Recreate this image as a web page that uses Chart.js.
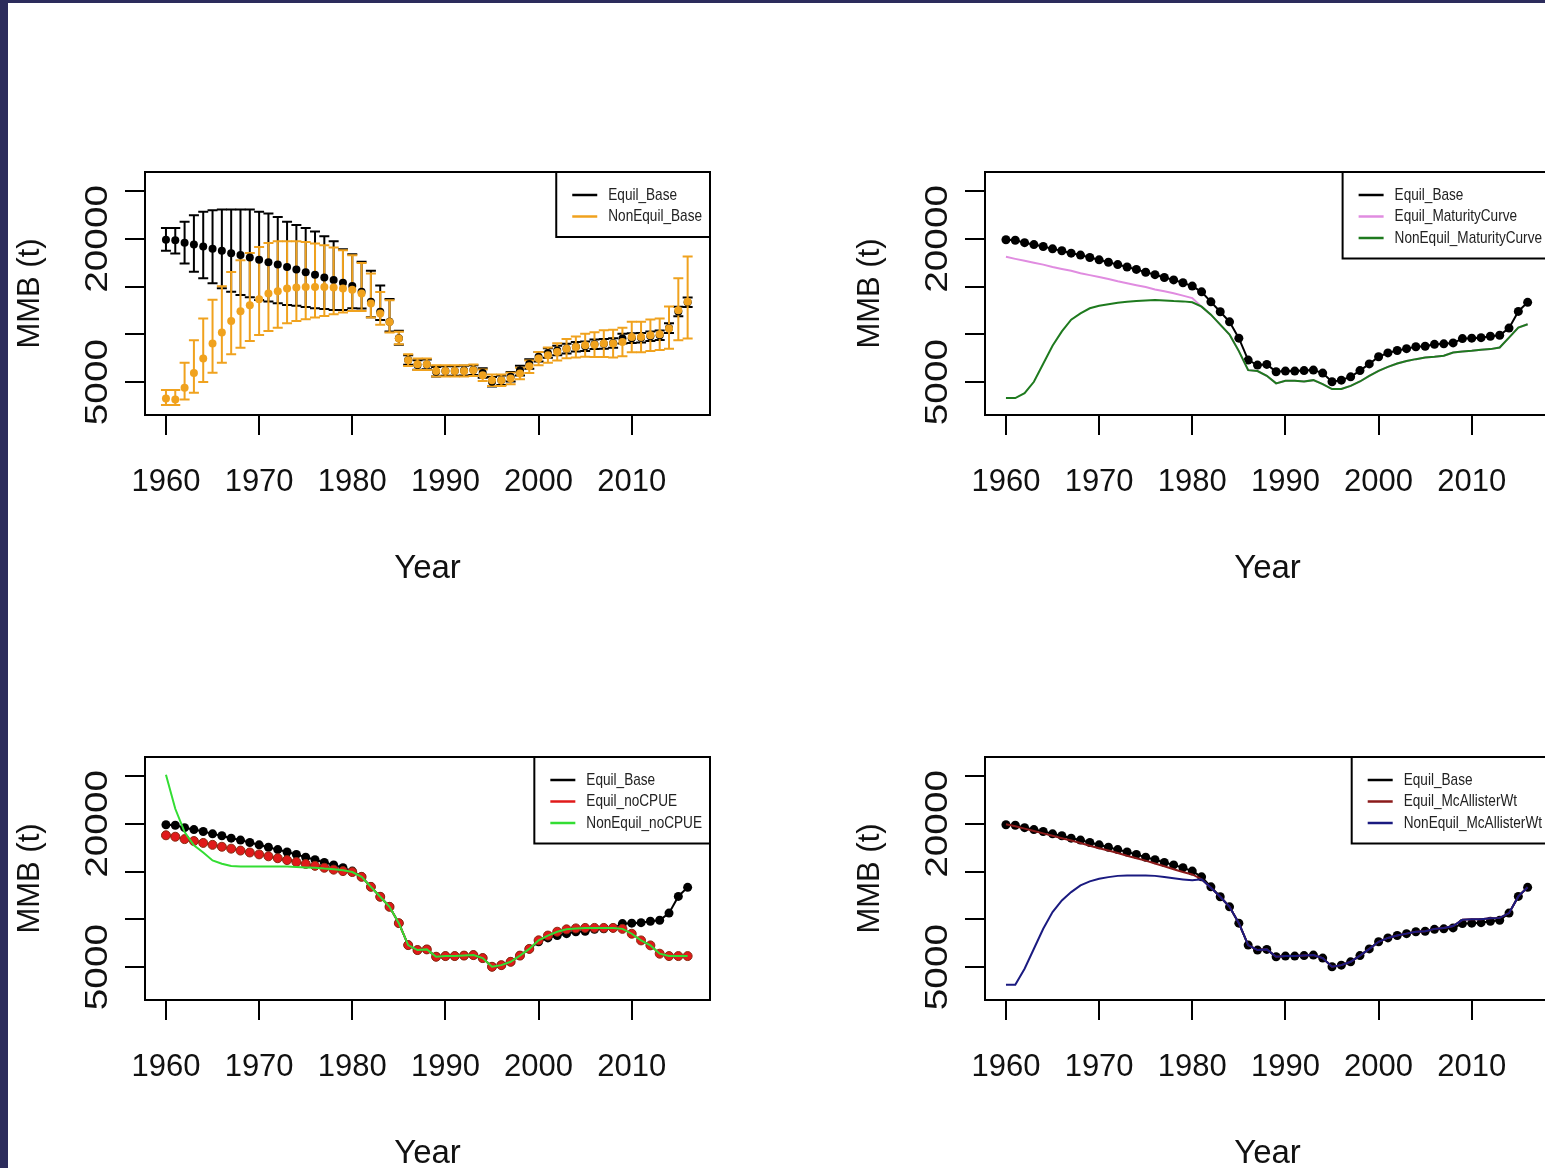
<!DOCTYPE html>
<html><head><meta charset="utf-8">
<script src="https://cdn.jsdelivr.net/npm/chart.js@4"></script>
<style>
html,body{margin:0;padding:0;background:#fff;width:1545px;height:1168px;overflow:hidden;position:relative}
.c{position:absolute;width:772px;height:620px}
#strip{position:absolute;left:0;top:0;width:8px;height:1168px;background:#2c2c5c}
#strip2{position:absolute;left:0;top:0;width:1545px;height:3px;background:#2c2c5c}
</style></head><body>
<div id="strip"></div><div id="strip2"></div>
<div class="c" style="left:0;top:0"><canvas id="p1" width="772" height="620"></canvas></div>
<div class="c" style="left:840px;top:0"><canvas id="p2" width="772" height="620"></canvas></div>
<div class="c" style="left:0;top:585px"><canvas id="p3" width="772" height="620"></canvas></div>
<div class="c" style="left:840px;top:585px"><canvas id="p4" width="772" height="620"></canvas></div>
<script>
const years=[1960,1961,1962,1963,1964,1965,1966,1967,1968,1969,1970,1971,1972,1973,1974,1975,1976,1977,1978,1979,1980,1981,1982,1983,1984,1985,1986,1987,1988,1989,1990,1991,1992,1993,1994,1995,1996,1997,1998,1999,2000,2001,2002,2003,2004,2005,2006,2007,2008,2009,2010,2011,2012,2013,2014,2015,2016];
const xTicks=[1960,1970,1980,1990,2000,2010];
const yTicks=[5000,10000,15000,20000,25000];
const yLabels=[[5000,"5000"],[20000,"20000"]];

const equilBase=[19900,19850,19600,19400,19200,18950,18750,18500,18300,18050,17800,17550,17300,17050,16800,16500,16250,15950,15700,15400,15050,14450,13400,12360,11310,9600,7300,6780,6850,6080,6150,6150,6200,6250,5940,5030,5200,5550,6200,6900,7650,8050,8300,8500,8700,8750,8950,9000,9100,9550,9600,9650,9800,9900,10650,12400,13350];
const equilBaseUpper=[21130,21130,21800,22480,22830,22990,23060,23060,23060,23060,22830,22650,22300,21800,21460,21130,20780,20270,19750,18900,18380,17600,16660,15100,13700,10370,7800,7280,7350,6580,6650,6650,6700,6750,6440,5530,5700,6050,6700,7400,8150,8550,8800,9000,9200,9250,9450,9500,9600,10050,10100,10150,10300,10400,11150,12900,13850];
const equilBaseLower=[18750,18470,17420,16560,15860,15340,14820,14470,14120,13880,13600,13430,13250,13080,12980,12850,12730,12650,12560,12560,12730,12700,11800,11500,10300,8900,6800,6280,6350,5580,5650,5650,5700,5750,5440,4530,4700,5050,5700,6400,7150,7550,7800,8000,8200,8250,8450,8500,8600,9050,9100,9150,9300,9400,10150,11900,12850];
const nonEquilBase=[3290,3180,4400,5960,7460,9030,10180,11400,12420,13040,13670,14270,14500,14790,14900,14960,14960,14960,14900,14790,14680,14270,13220,12170,11300,9550,7290,6870,6870,6170,6170,6170,6170,6240,5720,5200,5200,5370,5890,6660,7460,7810,8160,8500,8680,8850,8920,9030,9030,9200,9720,9720,9900,10000,10600,12520,13400];
const nonEquilBaseUpper=[4160,4160,7010,9380,11650,13630,15030,16530,17750,18520,19150,19570,19740,19740,19740,19670,19500,19320,19080,18800,18280,17480,16360,14440,13570,10280,7900,7470,7470,6770,6770,6770,6770,6840,6320,5800,5800,5970,6490,7260,8160,8610,9060,9500,9780,10050,10220,10430,10480,10700,11320,11320,11550,11650,12910,15880,18150];
const nonEquilBaseLower=[2600,2600,3180,3880,5000,5980,7030,7900,8600,9300,9930,10350,10700,11150,11400,11580,11750,11930,12100,12280,12450,12450,11760,11000,10190,8970,6690,6270,6270,5570,5570,5570,5570,5640,5120,4600,4600,4770,5290,5960,6760,7010,7260,7500,7580,7650,7620,7630,7580,7700,8120,8120,8250,8350,8500,9380,9550];
const equilMaturity=[18120,17900,17700,17500,17300,17050,16850,16650,16400,16200,16000,15800,15550,15350,15150,14950,14700,14500,14300,14050,13800,12900,12060,11020,9980,8240,6250,6150,5660,4860,5130,5130,5070,5200,4790,4270,4270,4600,5060,5650,6180,6590,6940,7200,7400,7570,7640,7750,8100,8200,8270,8380,8450,8620,9660,10700,11050];
const nonEquilMaturity=[3320,3320,3840,5030,6920,8800,10300,11530,12200,12730,13000,13150,13300,13400,13480,13550,13590,13550,13480,13450,13350,12900,12060,11020,9980,8240,6250,6150,5660,4860,5130,5130,5070,5200,4790,4270,4270,4600,5060,5650,6180,6590,6940,7200,7400,7570,7640,7750,8100,8200,8270,8380,8450,8620,9660,10700,11050];
const equilNoCPUE=[18800,18650,18400,18200,18000,17800,17600,17400,17200,17000,16800,16600,16400,16200,16000,15800,15600,15400,15200,15050,14950,14450,13400,12360,11310,9600,7300,6780,6850,6080,6150,6150,6200,6250,5940,5030,5200,5550,6200,6900,7800,8300,8700,8950,9050,9100,9100,9100,9100,9000,8490,7790,7270,6400,6150,6150,6150];
const nonEquilNoCPUE=[25140,21580,19140,17740,17000,16170,15820,15580,15540,15540,15540,15540,15540,15520,15480,15440,15400,15310,15250,15150,14950,14450,13400,12360,11310,9600,7300,6780,6850,6080,6150,6150,6200,6250,5940,5030,5200,5550,6200,6900,7800,8300,8700,8950,9050,9100,9100,9100,9100,9000,8490,7790,7270,6400,6150,6150,6150];
const equilMcAllister=[19950,19750,19500,19250,19000,18750,18500,18250,18000,17700,17450,17200,16950,16650,16400,16150,15850,15550,15250,14950,14700,14200,13300,12360,11310,9600,7300,6780,6850,6080,6150,6150,6200,6250,5940,5030,5200,5550,6200,6900,7650,8050,8300,8500,8700,8750,9000,9100,9300,9950,10000,10000,10100,10150,10650,12400,13350];
const nonEquilMcAllister=[3150,3150,4830,6920,9010,10760,11980,12850,13550,13970,14250,14420,14550,14600,14600,14580,14550,14420,14300,14180,14080,14200,13300,12360,11310,9600,7300,6780,6850,6080,6150,6150,6200,6250,5940,5030,5200,5550,6200,6900,7650,8050,8300,8500,8700,8750,9000,9100,9300,9950,10000,10000,10100,10150,10650,12400,13350];

const pts=a=>a.map((v,i)=>({x:years[i],y:v}));
const FONT='"Liberation Sans", Arial, sans-serif';

const boxPlugin={id:'box',afterDraw(c){const a=c.chartArea,x=c.ctx;x.save();x.strokeStyle='#000';x.lineWidth=2;x.strokeRect(a.left,a.top,a.right-a.left,a.bottom-a.top);
 const sy=c.scales.y;x.fillStyle='#111';x.font='32px '+FONT;x.textAlign='center';x.textBaseline='middle';
 yLabels.forEach(l=>{const py=sy.getPixelForValue(l[0]);const tw=x.measureText(l[1]).width;const target=l[1].length*21.6;
  x.save();x.translate(98,py);x.rotate(-Math.PI/2);x.scale(target/tw,1);x.fillText(l[1],0,0);x.restore();});
 const L=c.options.plugins.rlegend;if(L){x.font='17px '+FONT;x.textAlign='left';const sc=0.8;let w=0;L.forEach(e=>w=Math.max(w,x.measureText(e[0]).width*sc));
 const bw=w+60,bh=L.length*21.5+22,bx=a.right-bw;x.fillStyle='#fff';x.fillRect(bx,a.top,bw,bh);x.strokeStyle='#000';x.lineWidth=2;x.strokeRect(bx,a.top,bw,bh);
 L.forEach((e,i)=>{const yy=a.top+23+i*21.5;x.strokeStyle=e[1];x.lineWidth=2.5;x.beginPath();x.moveTo(bx+16,yy);x.lineTo(bx+41,yy);x.stroke();x.fillStyle='#222';x.textBaseline='middle';
  x.save();x.translate(bx+52,yy);x.scale(sc,1);x.fillText(e[0],0,0);x.restore();});}
 x.restore();}};
const errPlugin={id:'err',beforeDatasetsDraw(c){const E=c.options.plugins.errbars;if(!E)return;const x=c.ctx,sx=c.scales.x,sy=c.scales.y;x.save();
 E.forEach(e=>{x.strokeStyle=e.color;x.lineWidth=2;years.forEach((yr,i)=>{const px=sx.getPixelForValue(yr),a=sy.getPixelForValue(e.lo[i]),b=sy.getPixelForValue(e.hi[i]);x.beginPath();x.moveTo(px,a);x.lineTo(px,b);x.moveTo(px-5,a);x.lineTo(px+5,a);x.moveTo(px-5,b);x.lineTo(px+5,b);x.stroke();});});x.restore();}};

function make(id,datasets,legend,errbars){
 new Chart(document.getElementById(id),{type:'line',data:{datasets},
 options:{responsive:false,animation:false,layout:{padding:{top:172,right:62,left:0,bottom:0}},
  plugins:{legend:{display:false},tooltip:{enabled:false},rlegend:legend,errbars:errbars},
  scales:{
   x:{type:'linear',min:1957.75,max:2018.4,border:{display:false},
    grid:{drawOnChartArea:false,tickLength:20,color:'#000',lineWidth:2},
    afterBuildTicks:s=>{s.ticks=xTicks.map(v=>({value:v}));},
    afterFit:s=>{s.height=205;},
    ticks:{color:'#111',font:{size:31,family:FONT},padding:29,maxRotation:0,autoSkip:false,callback:v=>String(v)},
    title:{display:true,text:'Year',color:'#111',font:{size:33,family:FONT},padding:{top:30,bottom:31}}},
   y:{min:1550,max:27000,border:{display:false},
    grid:{drawOnChartArea:false,tickLength:20,lineWidth:2,color:'#000'},
    afterBuildTicks:s=>{s.ticks=yTicks.map(v=>({value:v}));},
    afterFit:s=>{s.width=145;},
    ticks:{display:true,color:'rgba(0,0,0,0)',font:{size:31,family:FONT},padding:8,autoSkip:false,callback:()=>''},
    title:{display:true,text:'MMB (t)',color:'#111',font:{size:31,family:FONT},padding:{top:12,bottom:10}}}
  }},plugins:[errPlugin,boxPlugin]});
}
const ln=(d,col,o)=>Object.assign({data:pts(d),borderColor:col,backgroundColor:col,borderWidth:2,tension:0,pointRadius:0,pointBorderWidth:0},o||{});

make('p1',[
 ln(nonEquilBase,'#f0a21e',{showLine:false,pointRadius:4}),
 ln(equilBase,'#000',{showLine:false,pointRadius:4})
],[["Equil_Base","#000"],["NonEquil_Base","#f0a21e"]],
[{color:'#000',lo:equilBaseLower,hi:equilBaseUpper},{color:'#f0a21e',lo:nonEquilBaseLower,hi:nonEquilBaseUpper}]);

make('p2',[
 ln(nonEquilMaturity,'#1e7a1e'),
 ln(equilMaturity,'#e08ce0'),
 ln(equilBase,'#000',{pointRadius:4.5})
],[["Equil_Base","#000"],["Equil_MaturityCurve","#e08ce0"],["NonEquil_MaturityCurve","#1e7a1e"]]);

make('p3',[
 ln(nonEquilNoCPUE,'#33dd33'),
 ln(equilNoCPUE,'#e01a1a',{pointRadius:4.5,pointBorderColor:'#8a2a10',pointBorderWidth:1}),
 ln(equilBase,'#000',{pointRadius:4.5})
],[["Equil_Base","#000"],["Equil_noCPUE","#e01a1a"],["NonEquil_noCPUE","#33dd33"]]);

make('p4',[
 ln(nonEquilMcAllister,'#1a1a80'),
 ln(equilMcAllister,'#8b1a1a'),
 ln(equilBase,'#000',{pointRadius:4.5})
],[["Equil_Base","#000"],["Equil_McAllisterWt","#8b1a1a"],["NonEquil_McAllisterWt","#1a1a80"]]);
</script></body></html>
